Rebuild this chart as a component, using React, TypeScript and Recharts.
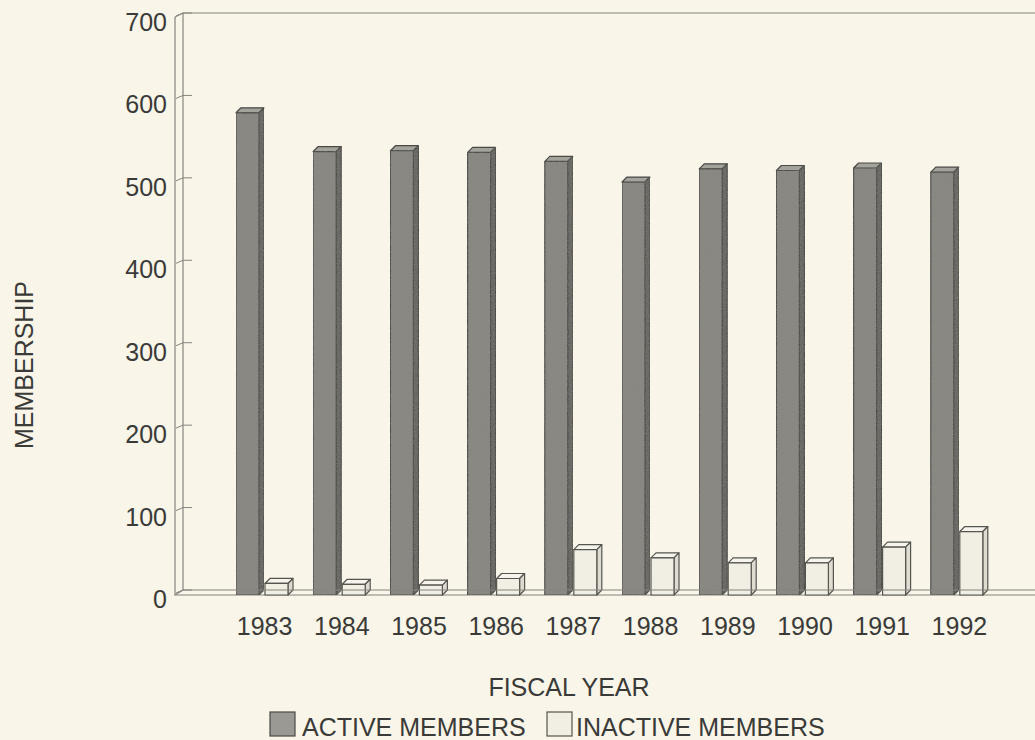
import React from 'react';
import { BarChart, Bar, XAxis, YAxis, ReferenceLine, Legend, Customized } from 'recharts';

// membership by fiscal year
const years = ['1983', '1984', '1985', '1986', '1987', '1988', '1989', '1990', '1991', '1992'];
const activeMembers = [585, 538, 539, 537, 526, 501, 517, 515, 518, 513];
const inactiveMembers = [14, 13, 12, 20, 55, 45, 39, 39, 58, 77];
const yTicks = [0, 100, 200, 300, 400, 500, 600, 700];

const data = years.map((year, i) => ({
  year,
  active: activeMembers[i],
  inactive: inactiveMembers[i],
}));

const FONT = '"Liberation Sans", Arial, Helvetica, sans-serif';
const INK = '#3a3a38';
const BG = '#f9f5e9';
const LINE = '#85847e';
const DEPTH = 5;

const ACTIVE = { front: '#898882', side: '#666561', top: '#a3a29b', stroke: '#4a4946', grain: true };
const INACTIVE = { front: '#f1eee4', side: '#dedbd0', top: '#f6f4ec', stroke: '#55544f', grain: false };

// 3D-looking bar: front face + top + right side
function Bar3D(props: any) {
  const { x, y, width, height, colors } = props;
  if (height == null || height <= 0) return null;
  const d = DEPTH;
  const w = width - d;
  return (
    <g strokeWidth={1.2} stroke={colors.stroke} strokeLinejoin="round">
      <polygon
        points={`${x},${y + d} ${x + d},${y} ${x + width},${y} ${x + w},${y + d}`}
        fill={colors.top}
      />
      <polygon
        points={`${x + w},${y + d} ${x + width},${y} ${x + width},${y + height} ${x + w},${y + height + d}`}
        fill={colors.side}
        filter={colors.grain ? 'url(#grain)' : undefined}
      />
      <rect
        x={x}
        y={y + d}
        width={w}
        height={height}
        fill={colors.front}
        filter={colors.grain ? 'url(#grain)' : undefined}
      />
    </g>
  );
}

function YTick(props: any) {
  const { x, y, payload } = props;
  return (
    <g>
      <line x1={x - 7} y1={y + 3} x2={x} y2={y} stroke={LINE} />
      <line x1={x} y1={y} x2={x + 9} y2={y} stroke={LINE} />
      <text x={x - 16} y={y + 18} textAnchor="end" fontSize={25} fontFamily={FONT} fill={INK}>
        {payload.value}
      </text>
    </g>
  );
}

function XTick(props: any) {
  const { x, y, payload } = props;
  return (
    <text x={x} y={y + 45} textAnchor="middle" fontSize={25} fontFamily={FONT} fill={INK}>
      {payload.value}
    </text>
  );
}

// front edge of the 3D floor / wall, plus the speckle filter for the dark bars
function Frame() {
  return (
    <g>
      <defs>
        <filter id="grain" x="0" y="0" width="100%" height="100%">
          <feTurbulence type="fractalNoise" baseFrequency="0.7" numOctaves={2} seed={4} result="noise" />
          <feColorMatrix
            in="noise"
            type="matrix"
            values="0 0 0 0 0.25  0 0 0 0 0.25  0 0 0 0 0.23  0 0 0 0.9 -0.3"
            result="specks"
          />
          <feComposite in="specks" in2="SourceGraphic" operator="in" result="clipped" />
          <feMerge>
            <feMergeNode in="SourceGraphic" />
            <feMergeNode in="clipped" />
          </feMerge>
        </filter>
      </defs>
      <g stroke={LINE} fill="none" strokeWidth={1.2}>
        <polyline points="175,17 175,595 1035,595" />
        <line x1={175} y1={17} x2={183} y2={13} />
        <line x1={175} y1={595} x2={183} y2={590} />
      </g>
    </g>
  );
}

const legendItems = [
  { label: 'ACTIVE MEMBERS', colors: ACTIVE, x: 270, textX: 302 },
  { label: 'INACTIVE MEMBERS', colors: INACTIVE, x: 547, textX: 576 },
];

function LegendBlock() {
  return (
    <svg width={1035} height={70} style={{ display: 'block' }}>
      <text x={569} y={26} textAnchor="middle" fontSize={25} fontFamily={FONT} fill={INK}>
        FISCAL YEAR
      </text>
      {legendItems.map((item) => (
        <g key={item.label}>
          <rect
            x={item.x}
            y={42}
            width={25}
            height={24}
            fill={item.colors.grain ? '#9a9993' : item.colors.front}
            stroke={item.colors.stroke}
            strokeWidth={1.2}
          />
          <text x={item.textX} y={66} fontSize={25} fontFamily={FONT} fill={INK}>
            {item.label}
          </text>
        </g>
      ))}
    </svg>
  );
}

export default function App() {
  return (
    <div style={{ width: 1035, height: 740, background: BG, position: 'relative' }}>
      <style>{'body{margin:0;background:' + BG + ';}'}</style>
      <BarChart
        width={1035}
        height={740}
        data={data}
        margin={{ top: 13, right: 0, bottom: 0, left: 0 }}
        barSize={28}
        barGap={1}
        barCategoryGap={0}
      >
        <Customized component={Frame} />
        <ReferenceLine y={700} stroke={LINE} strokeWidth={1.2} />
        <XAxis
          dataKey="year"
          height={80}
          padding={{ left: 43, right: 37 }}
          tickLine={false}
          tickSize={0}
          tickMargin={0}
          axisLine={{ stroke: LINE, strokeWidth: 1.2 }}
          tick={<XTick />}
          interval={0}
        />
        <YAxis
          width={183}
          domain={[0, 700]}
          ticks={yTicks}
          tickLine={false}
          tickSize={0}
          tickMargin={0}
          axisLine={{ stroke: LINE, strokeWidth: 1.2 }}
          tick={<YTick />}
          label={{
            content: () => (
              <text
                x={33}
                y={365}
                transform="rotate(-90 33 365)"
                textAnchor="middle"
                fontSize={25}
                fontFamily={FONT}
                fill={INK}
              >
                MEMBERSHIP
              </text>
            ),
          }}
        />
        <Legend verticalAlign="bottom" content={() => <LegendBlock />} />
        <Bar dataKey="active" name="ACTIVE MEMBERS" isAnimationActive={false} shape={(p: any) => <Bar3D {...p} colors={ACTIVE} />} />
        <Bar dataKey="inactive" name="INACTIVE MEMBERS" isAnimationActive={false} shape={(p: any) => <Bar3D {...p} colors={INACTIVE} />} />
      </BarChart>
    </div>
  );
}
